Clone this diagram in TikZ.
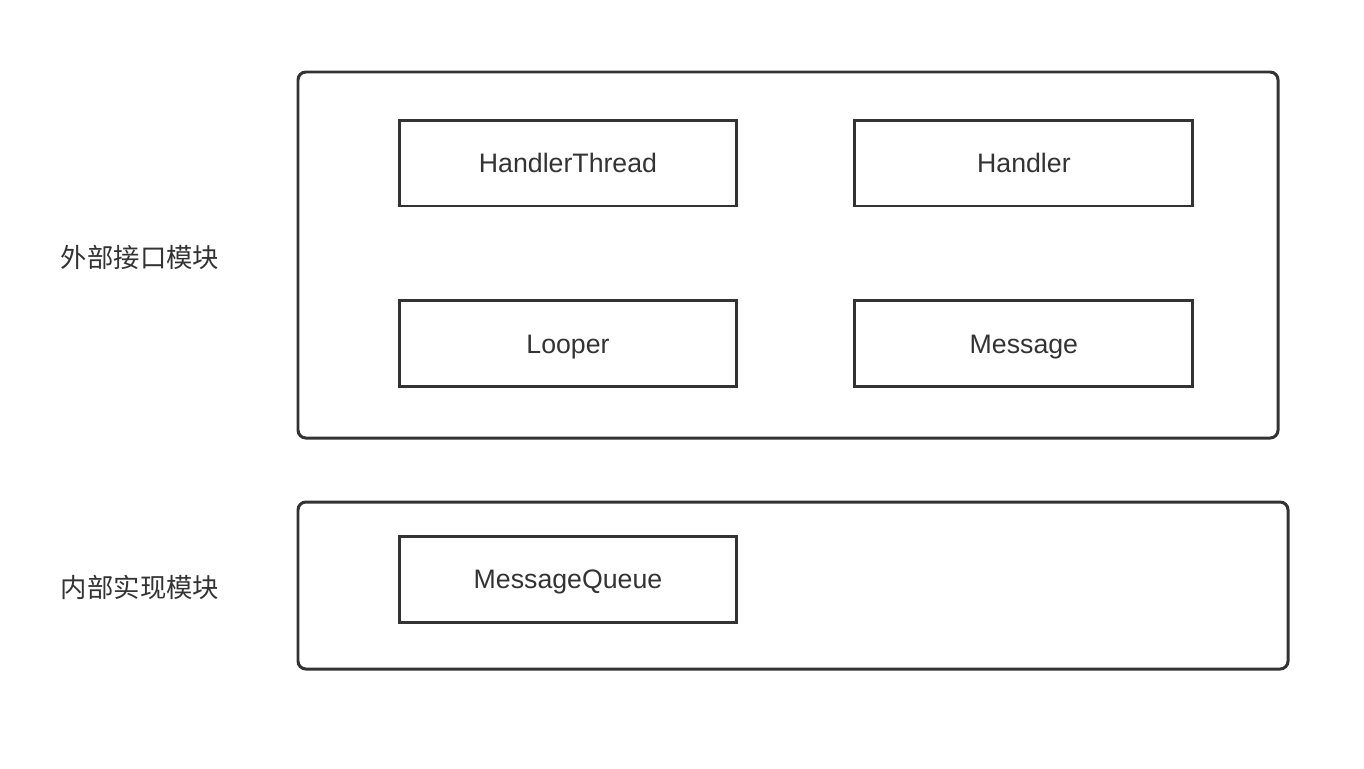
\documentclass[tikz,border=0pt]{standalone}
\usepackage{fontspec}
\setmainfont{Liberation Sans}
\newfontfamily\cjk{Noto Sans CJK SC}
\usetikzlibrary{positioning}
\definecolor{darkline}{HTML}{333333}
\tikzset{
  modulo/.style={
    draw=darkline,
    line width=1.7pt,
    rounded corners=4.5pt
  },
  clase/.style={
    draw=darkline,
    line width=1.7pt,
    minimum width=6.76cm,
    minimum height=1.72cm,
    inner sep=0pt,
    text height=10.8pt,
    text depth=0pt,
    text=darkline,
    font=\fontsize{15.2}{18}\selectfont
  },
  etiqueta/.style={
    text=darkline,
    inner sep=0pt,
    font=\cjk\fontsize{15}{18}\selectfont
  }
}
\begin{document}
\begin{tikzpicture}[x=0.02cm,y=-0.02cm]
\useasboundingbox (0,0) rectangle (1364,768);
% modules
\draw[modulo] (298,72) rectangle (1278,438);
\draw[modulo] (298,502) rectangle (1288,669);
\node[etiqueta] (ext) at (140,257) {外部接口模块};
\node[etiqueta] (int) at (140,587) {内部实现模块};
% classes
\node[clase] (ht) at (568,163) {HandlerThread};
\node[clase, right=2.30cm of ht] (h) {Handler};
\node[clase, below=1.84cm of ht] (lp) {Looper};
\node[clase, right=2.30cm of lp] (msg) {Message};
\node[clase] (mq) at (568,579) {MessageQueue};
\end{tikzpicture}
\end{document}
